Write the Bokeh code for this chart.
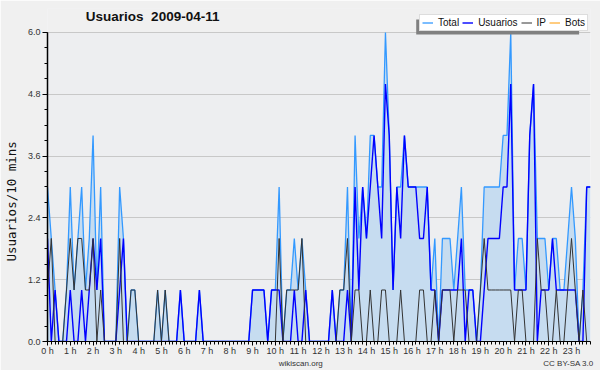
from bokeh.plotting import figure
from bokeh.models import (FixedTicker, Legend, LegendItem, PrintfTickFormatter, Label,
                          Range1d, ColumnDataSource, LinearAxis, BoxAnnotation)
from bokeh.embed import file_html
from bokeh.resources import INLINE

# ---- data: 144 ten-minute slots of 2009-04-11 ----
hour_labels = ["0 h", "1 h", "2 h", "3 h", "4 h", "5 h", "6 h", "7 h", "8 h", "9 h", "10 h", "11 h",
               "12 h", "13 h", "14 h", "15 h", "16 h", "17 h", "18 h", "19 h", "20 h", "21 h", "22 h", "23 h"]
y_tick_values = [0.0, 1.2, 2.4, 3.6, 4.8, 6.0]

total = [3, 2, 1, 0, 0, 1, 3, 1, 2, 3, 1, 2,
         4, 1, 3, 0, 0, 0, 0, 3, 2, 0, 1, 1,
         0, 0, 0, 0, 0, 1, 0, 1, 0, 0, 0, 1,
         0, 0, 0, 0, 1, 0, 0, 0, 0, 0, 0, 0,
         0, 0, 0, 0, 0, 0, 1, 1, 1, 1, 0, 1,
         1, 3, 0, 1, 1, 2, 1, 2, 1, 0, 0, 0,
         0, 0, 0, 1, 0, 1, 1, 3, 0, 4, 2, 3,
         2, 4, 4, 3, 3, 6, 4, 1, 3, 3, 4, 3,
         3, 3, 3, 3, 3, 1, 2, 0, 2, 2, 2, 1,
         2, 3, 1, 1, 1, 0, 1, 3, 3, 3, 3, 3,
         4, 4, 6, 1, 2, 2, 1, 4, 5, 2, 2, 2,
         1, 2, 2, 1, 1, 2, 3, 2, 0, 1, 3, 3]

usuarios = [2, 0, 1, 0, 0, 0, 1, 0, 0, 1, 0, 1,
            2, 1, 2, 0, 0, 0, 0, 1, 2, 0, 0, 0,
            0, 0, 0, 0, 0, 0, 0, 0, 0, 0, 0, 1,
            0, 0, 0, 0, 1, 0, 0, 0, 0, 0, 0, 0,
            0, 0, 0, 0, 0, 0, 1, 1, 1, 1, 0, 1,
            1, 1, 0, 0, 0, 1, 0, 0, 1, 0, 0, 0,
            0, 0, 0, 1, 0, 0, 0, 1, 0, 3, 1, 3,
            2, 3, 4, 3, 2, 5, 4, 1, 3, 2, 4, 3,
            3, 3, 2, 2, 3, 1, 1, 0, 1, 1, 1, 1,
            1, 2, 0, 1, 1, 0, 0, 1, 2, 2, 2, 2,
            3, 3, 5, 1, 1, 1, 1, 4, 5, 0, 1, 1,
            1, 2, 1, 1, 1, 1, 1, 1, 0, 0, 3, 3]

ip = [1, 2, 0, 0, 0, 1, 2, 1, 2, 2, 1, 1,
      2, 0, 1, 0, 0, 0, 0, 2, 0, 0, 1, 1,
      0, 0, 0, 0, 0, 1, 0, 1, 0, 0, 0, 0,
      0, 0, 0, 0, 0, 0, 0, 0, 0, 0, 0, 0,
      0, 0, 0, 0, 0, 0, 0, 0, 0, 0, 0, 0,
      0, 2, 0, 1, 1, 1, 1, 2, 0, 0, 0, 0,
      0, 0, 0, 0, 0, 1, 1, 2, 0, 1, 1, 0,
      0, 1, 0, 0, 1, 1, 0, 0, 0, 1, 0, 0,
      0, 0, 1, 1, 0, 0, 1, 0, 1, 1, 1, 0,
      1, 1, 1, 0, 0, 0, 1, 2, 1, 1, 1, 1,
      1, 1, 1, 0, 1, 1, 0, 0, 0, 2, 1, 1,
      0, 0, 1, 0, 0, 1, 2, 1, 0, 1, 0, 0]

bots = [0, 0, 0, 0, 0, 0, 0, 0, 0, 0, 0, 0,
        0, 0, 0, 0, 0, 0, 0, 0, 0, 0, 0, 0,
        0, 0, 0, 0, 0, 0, 0, 0, 0, 0, 0, 0,
        0, 0, 0, 0, 0, 0, 0, 0, 0, 0, 0, 0,
        0, 0, 0, 0, 0, 0, 0, 0, 0, 0, 0, 0,
        0, 0, 0, 0, 0, 0, 0, 0, 0, 0, 0, 0,
        0, 0, 0, 0, 0, 0, 0, 0, 0, 0, 0, 0,
        0, 0, 0, 0, 0, 0, 0, 0, 0, 0, 0, 0,
        0, 0, 0, 0, 0, 0, 0, 0, 0, 0, 0, 0,
        0, 0, 0, 0, 0, 0, 0, 0, 0, 0, 0, 0,
        0, 0, 0, 0, 0, 0, 0, 0, 0, 0, 0, 0,
        0, 0, 0, 0, 0, 0, 0, 0, 0, 0, 0, 0]

title_text = "Usuarios\u00a0 2009-04-11"
footer_texts = ["wikiscan.org", "CC BY-SA 3.0"]

slots = list(range(len(total)))  # slot index (10 minutes each)
src = ColumnDataSource(dict(x=slots, total=total, usuarios=usuarios, ip=ip, bots=bots))

FONT = "Liberation Sans"
Y_MAX = y_tick_values[-1]
Y_TOP = Y_MAX * 1.0775   # frame reaches above 6.0 to host the title/legend strip

p = figure(width=600, height=370, output_backend="svg", toolbar_location=None,
           x_range=Range1d(0, len(slots) - 1), y_range=Range1d(0, Y_TOP),
           min_border_left=46, min_border_right=10, min_border_top=8, min_border_bottom=20,
           background_fill_color="#edeef0", border_fill_color="#f0f0f0", outline_line_color=None)

# strip above the 6.0 line painted like the surrounding page
p.add_layout(BoxAnnotation(bottom=Y_MAX * 1.002, fill_color="#f0f0f0", fill_alpha=1,
                           line_color=None, level="underlay"))

# area + lines
p.varea(x="x", y1=0, y2="total", source=src, fill_color="#c6dcf0", fill_alpha=1)
r_bots = p.line("x", "bots", source=src, line_color="#ff9900", line_width=1)
r_total = p.line("x", "total", source=src, line_color="#3399ff", line_width=1.3)
r_users = p.line("x", "usuarios", source=src, line_color="#0000ff", line_width=1.4)
r_ip = p.line("x", "ip", source=src, line_color="#333333", line_width=1)

# title in the strip above the plot area
p.add_layout(Label(x=10.1, y=6.31, text=title_text, text_font=FONT, text_font_size="13.5px",
                   text_font_style="bold", text_color="#111111", text_baseline="middle"))

# axes
p.xaxis.ticker = FixedTicker(ticks=[h * 6 for h in range(len(hour_labels))], minor_ticks=slots)
p.xaxis.major_label_overrides = {h * 6: lab for h, lab in enumerate(hour_labels)}
p.yaxis.ticker = FixedTicker(ticks=y_tick_values, minor_ticks=[k * 0.3 for k in range(21)])
p.yaxis.formatter = PrintfTickFormatter(format="%.1f")
p.yaxis.bounds = (0, Y_MAX)
p.yaxis.axis_label = "Usuarios/10 mins" + "\u00a0" * 7
p.yaxis.axis_label_text_font = "DejaVu Sans Mono"
p.yaxis.axis_label_text_font_size = "12.5px"
p.yaxis.axis_label_text_font_style = "normal"
p.yaxis.axis_label_text_color = "#111111"
p.yaxis.axis_label_standoff = 6
for ax in (p.xaxis[0], p.yaxis[0]):
    ax.axis_line_color = "black"
    ax.major_tick_line_color = "black"
    ax.minor_tick_line_color = "black"
    ax.major_tick_in = 0
    ax.minor_tick_in = 0
    ax.major_label_text_font = FONT
    ax.major_label_text_font_size = "9px"
    ax.major_label_text_color = "#333333"
p.yaxis.major_label_standoff = 2
p.xaxis.major_label_standoff = 0
p.yaxis.axis_line_width = 1.5
p.yaxis.major_tick_out = 5
p.yaxis.minor_tick_out = 3
p.xaxis.major_tick_out = 4
p.xaxis.minor_tick_out = 3

# footer row (site name and licence) as an unlined extra axis below
footer_pos = [66.7, 137.2]
footer = LinearAxis(ticker=FixedTicker(ticks=footer_pos, minor_ticks=[]),
                    major_label_overrides={footer_pos[0]: footer_texts[0], footer_pos[1]: footer_texts[1]},
                    axis_line_color=None, major_tick_line_color=None, minor_tick_line_color=None,
                    major_tick_out=0, minor_tick_out=0, major_tick_in=0, minor_tick_in=0,
                    major_label_standoff=0, major_label_text_font=FONT,
                    major_label_text_font_size="8px", major_label_text_color="#333333")
p.add_layout(footer, "below")

p.xgrid.visible = False
p.ygrid.grid_line_color = "#c8c8c8"
p.ygrid.grid_line_width = 1

# legend drop shadow, then the legend itself
p.add_layout(BoxAnnotation(left=97.1, right=140, bottom=5.961, top=6.252,
                           fill_color="#808080", fill_alpha=1, line_color=None))
legend = Legend(items=[LegendItem(label="Total", renderers=[r_total]),
                       LegendItem(label="Usuarios", renderers=[r_users]),
                       LegendItem(label="IP", renderers=[r_ip]),
                       LegendItem(label="Bots", renderers=[r_bots])],
                orientation="horizontal", location=(372, 310),
                label_text_font=FONT, label_text_font_size="10px", label_text_color="#111111",
                glyph_width=11, glyph_height=11, label_height=11, label_width=5,
                label_standoff=5, spacing=3, padding=2, margin=0,
                border_line_color="#bbbbbb", background_fill_color="white", background_fill_alpha=1)
p.add_layout(legend)

open("out.html", "w").write(file_html(p, INLINE))
